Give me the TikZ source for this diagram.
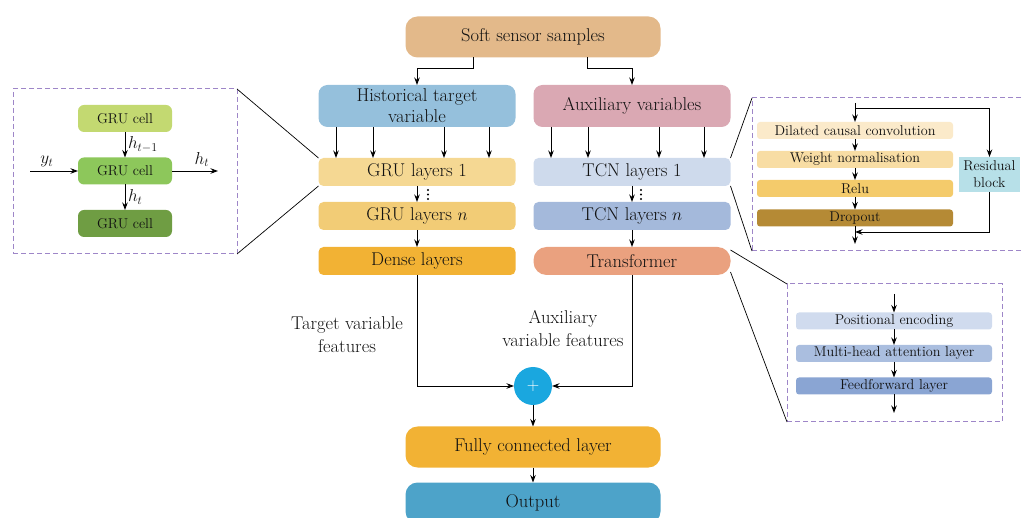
\documentclass[tikz,border=0pt]{standalone}
\usepackage{amsmath}
\usepackage{tikz}
\usetikzlibrary{arrows.meta}

\definecolor{softc}{HTML}{E3B98A}
\definecolor{histc}{HTML}{95C0DC}
\definecolor{auxc}{HTML}{DAA8B3}
\definecolor{gruone}{HTML}{F5D893}
\definecolor{grun}{HTML}{F2CC76}
\definecolor{densec}{HTML}{F2B234}
\definecolor{tcnone}{HTML}{CEDAEC}
\definecolor{tcnn}{HTML}{A4B9DB}
\definecolor{transc}{HTML}{EAA17F}
\definecolor{plusc}{HTML}{1AA7DF}
\definecolor{outc}{HTML}{4DA3C9}
\definecolor{cella}{HTML}{C3D971}
\definecolor{cellb}{HTML}{8DC75B}
\definecolor{cellc}{HTML}{6F9D43}
\definecolor{dccc}{HTML}{FBEACA}
\definecolor{wnc}{HTML}{F8DDA4}
\definecolor{reluc}{HTML}{F4CB6B}
\definecolor{dropc}{HTML}{B58A35}
\definecolor{resc}{HTML}{B7E0E8}
\definecolor{pec}{HTML}{D0DBEE}
\definecolor{mhac}{HTML}{AABEDF}
\definecolor{ffc}{HTML}{8AA5D3}
\definecolor{zoomc}{HTML}{9E86C8}
\definecolor{ink}{HTML}{111111}

\begin{document}
\begin{tikzpicture}[x=1pt, y=-1pt, >={Stealth[length=7.5pt,width=5.5pt]}, line width=0.9pt,
  every node/.style={text=ink, inner sep=0pt, outer sep=0pt},
  blk/.style={rounded corners=5pt, minimum width=197pt, minimum height=28pt, font=\fontsize{18.5}{19}\selectfont},
  big/.style={blk, rounded corners=12pt, minimum width=255pt, minimum height=41pt},
  cell/.style={rounded corners=6pt, minimum width=94pt, minimum height=27pt, font=\fontsize{14.2}{16}\selectfont},
  bar/.style={rounded corners=3pt, minimum width=196pt, minimum height=17pt, font=\fontsize{14.2}{16}\selectfont},
  zoombox/.style={draw=zoomc, line width=1pt, dash pattern=on 5pt off 3pt},
  lbl/.style={align=center, font=\fontsize{18.5}{23}\selectfont}]
  \useasboundingbox (0,0) rectangle (1023,518);

  % main column
  \node[big, fill=softc] (soft) at (533,37) {Soft sensor samples};
  \node[blk, fill=histc, minimum height=42pt, rounded corners=9pt, align=center,
        font=\fontsize{18.5}{21}\selectfont] (hist) at (417,106) {Historical target\\variable};
  \node[blk, fill=auxc, minimum height=42pt, rounded corners=9pt] (aux) at (632,106) {Auxiliary variables};
  \node[blk, fill=gruone] (gru1) at (417,172) {GRU layers 1};
  \node[blk, fill=grun] (grun) at (417,216) {GRU layers $n$};
  \node[blk, fill=densec] (dense) at (417,261) {Dense layers};
  \node[blk, fill=tcnone] (tcn1) at (632,172) {TCN layers 1};
  \node[blk, fill=tcnn] (tcnn) at (632,216) {TCN layers $n$};
  \node[blk, fill=transc, rounded corners=13pt] (trans) at (632,261) {Transformer};
  \node[circle, fill=plusc, minimum size=38pt, text=white, font=\fontsize{16}{16}\selectfont] (plus) at (533,386) {$+$};
  \node[big, fill=densec] (fc) at (533,447) {Fully connected layer};
  \node[big, fill=outc] (out) at (533,503) {Output};
  \node[lbl] (tvf) at (347,335) {Target variable\\features};
  \node[lbl] (avf) at (563,329) {Auxiliary\\variable features};

  \draw[->] ([xshift=-60pt]soft.south) -- ++(0,-11pt) -| (hist.north);
  \draw[->] ([xshift=54pt]soft.south) -- ++(0,-11pt) -| (aux.north);
  \foreach \dx in {-81,-44,27,72} {
    \draw[->] ([xshift=\dx pt]hist.south) -- ([xshift=\dx pt]gru1.north);
    \draw[->] ([xshift=\dx pt]aux.south) -- ([xshift=\dx pt]tcn1.north);
  }
  \draw[->] (gru1) -- (grun);
  \draw[->] (tcn1) -- (tcnn);
  \foreach \k in {0,1,2} {
    \fill ([xshift=11pt,yshift=-4pt-\k*4.5pt]gru1.south) circle (1.2pt);
    \fill ([xshift=9pt,yshift=-4pt-\k*4.5pt]tcn1.south) circle (1.2pt);
  }
  \draw[->] (grun) -- (dense);
  \draw[->] (tcnn) -- (trans);
  \draw[->] (dense.south) |- (plus.west);
  \draw[->] (trans.south) |- (plus.east);
  \draw[->] (plus) -- (fc);
  \draw[->] (fc) -- (out);

  % GRU cell detail
  \node[zoombox, minimum width=224pt, minimum height=165pt] (gruzoom) at (125,171.5) {};
  \node[cell, fill=cella] (cellA) at (125,118.5) {GRU cell};
  \node[cell, fill=cellb] (cellB) at (125,171) {GRU cell};
  \node[cell, fill=cellc] (cellC) at (125,223.5) {GRU cell};
  \coordinate (yin) at (30,171);
  \coordinate (hout) at (218,171);
  \draw[->] (cellA) -- (cellB) node[midway, right=3pt, font=\fontsize{17}{17}\selectfont] {$h_{t-1}$};
  \draw[->] (cellB) -- (cellC) node[midway, right=3pt, font=\fontsize{17}{17}\selectfont] {$h_t$};
  \draw[->] (yin) -- (cellB) node[pos=0.35, above=4pt, font=\fontsize{17}{17}\selectfont] {$y_t$};
  \draw[->] (cellB) -- (hout) node[pos=0.65, above=4pt, font=\fontsize{17}{17}\selectfont] {$h_t$};
  \draw[line width=0.7pt] (gruzoom.north east) -- (gru1.north west);
  \draw[line width=0.7pt] (gruzoom.south east) -- (gru1.south west);

  % TCN residual block detail
  \node[zoombox, minimum width=278pt, minimum height=153pt] (tcnzoom) at (891,174.5) {};
  \node[bar, fill=dccc] (dcc) at (855,130.5) {Dilated causal convolution};
  \node[bar, fill=wnc] (wn) at (855,159.5) {Weight normalisation};
  \node[bar, fill=reluc] (relu) at (855,188.5) {Relu};
  \node[bar, fill=dropc] (drop) at (855,218) {Dropout};
  \node[fill=resc, minimum width=61pt, minimum height=35pt, align=center,
        font=\fontsize{14.2}{17}\selectfont] (res) at (989.5,174.5) {Residual\\block};
  \coordinate (tcnin) at (855,103);
  \coordinate (split) at (855,108);
  \coordinate (merge) at (855,232);
  \coordinate (tcnout) at (855,244);
  \draw[->] (tcnin) -- (dcc);
  \draw[->] (dcc) -- (wn);
  \draw[->] (wn) -- (relu);
  \draw[->] (relu) -- (drop);
  \draw[->] (drop) -- (tcnout);
  \draw[->] (split) -| (res.north);
  \draw[->] (res.south) |- (merge);
  \draw[line width=0.7pt] (tcn1.north east) -- (tcnzoom.north west);
  \draw[line width=0.7pt] (tcn1.south east) -- (tcnzoom.south west);

  % Transformer detail
  \node[zoombox, minimum width=215pt, minimum height=138pt] (trzoom) at (894.5,353) {};
  \node[bar, fill=pec] (pe) at (894,321) {Positional encoding};
  \node[bar, fill=mhac] (mha) at (894,353.5) {Multi-head attention layer};
  \node[bar, fill=ffc] (ff) at (894,386) {Feedforward layer};
  \coordinate (trin) at (894,294);
  \coordinate (trout) at (894,413);
  \draw[->] (trin) -- (pe);
  \draw[->] (pe) -- (mha);
  \draw[->] (mha) -- (ff);
  \draw[->] (ff) -- (trout);
  \draw[line width=0.7pt] ([yshift=-3pt]trans.north east) -- (trzoom.north west);
  \draw[line width=0.7pt] ([yshift=3pt]trans.south east) -- (trzoom.south west);
\end{tikzpicture}
\end{document}
